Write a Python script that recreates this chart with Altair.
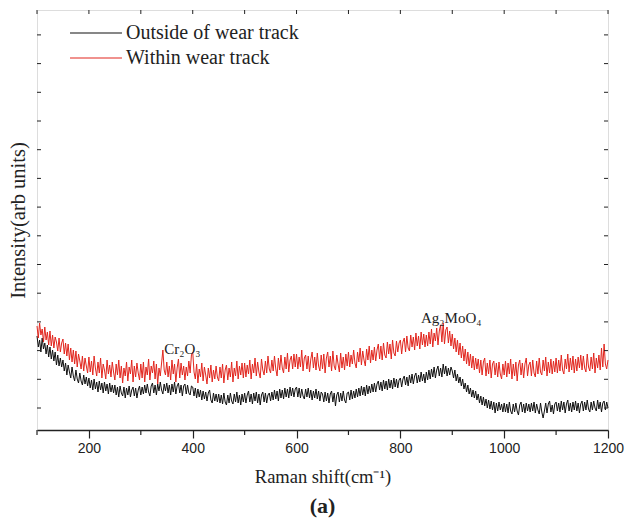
import altair as alt
import pandas as pd

start, step = 100, 2.5

outside = [
    94, 83, 90, 78, 92, 81, 87, 76, 85, 73, 83, 71, 80, 69, 78, 65, 75, 64, 72, 63,
    70, 59, 67, 55, 65, 58, 52, 63, 54, 49, 60, 51, 47, 57, 49, 45, 55, 46, 53, 44,
    52, 42, 50, 40, 51, 41, 48, 38, 49, 40, 47, 37, 48, 39, 46, 36, 47, 38, 45, 37,
    45, 35, 43, 33, 44, 37, 34, 43, 32, 42, 35, 44, 33, 40, 43, 34, 42, 32, 40, 44,
    35, 43, 36, 45, 37, 46, 38, 34, 44, 47, 37, 45, 35, 46, 39, 48, 40, 36, 46, 39,
    47, 37, 45, 35, 46, 38, 48, 36, 44, 47, 37, 45, 34, 44, 46, 36, 45, 37, 35, 44,
    43, 34, 42, 32, 41, 33, 40, 30, 39, 31, 38, 29, 37, 40, 30, 27, 37, 29, 36, 28,
    36, 27, 35, 26, 37, 28, 25, 35, 27, 37, 29, 26, 36, 28, 38, 27, 35, 25, 36, 28,
    37, 27, 35, 39, 28, 36, 26, 37, 29, 38, 27, 36, 25, 35, 38, 28, 37, 27, 35, 37,
    29, 38, 30, 40, 31, 39, 29, 41, 32, 40, 31, 42, 33, 41, 32, 43, 34, 42, 33, 41,
    43, 33, 42, 32, 41, 34, 31, 41, 33, 42, 32, 40, 30, 39, 32, 41, 31, 39, 29, 38,
    36, 28, 38, 29, 37, 27, 36, 39, 28, 37, 24, 35, 38, 28, 37, 29, 39, 30, 27, 37,
    38, 30, 40, 31, 39, 32, 41, 33, 42, 34, 44, 35, 43, 34, 45, 36, 44, 37, 46, 38,
    47, 38, 46, 49, 40, 48, 39, 50, 41, 49, 40, 51, 42, 50, 41, 52, 43, 51, 42, 50,
    52, 43, 51, 54, 45, 53, 44, 55, 47, 56, 46, 54, 57, 47, 55, 48, 58, 49, 56, 47,
    58, 50, 60, 51, 61, 53, 63, 52, 60, 64, 54, 62, 53, 66, 56, 64, 54, 62, 55, 63,
    59, 52, 60, 49, 56, 47, 53, 44, 51, 41, 47, 38, 45, 36, 42, 33, 40, 32, 39, 30,
    36, 27, 34, 25, 33, 24, 31, 22, 30, 21, 29, 20, 28, 17, 27, 19, 28, 20, 26, 18,
    27, 18, 26, 17, 28, 19, 16, 26, 18, 27, 19, 15, 25, 28, 18, 26, 17, 27, 19, 26,
    18, 27, 19, 28, 17, 26, 20, 16, 27, 18, 12, 19, 27, 17, 26, 29, 18, 25, 16, 26,
    28, 19, 27, 18, 29, 20, 28, 17, 26, 30, 19, 27, 18, 28, 20, 29, 19, 27, 17, 26,
    29, 19, 28, 20, 30, 21, 18, 28, 20, 29, 22, 19, 30, 21, 28, 18, 27, 29, 20, 28,
    22,
]

within = [
    104, 92, 107, 95, 101, 88, 103, 90, 98, 85, 99, 84, 95, 82, 93, 88, 79, 92, 78, 87,
    91, 76, 87, 74, 86, 70, 82, 68, 80, 66, 79, 63, 76, 69, 61, 74, 59, 72, 64, 57,
    73, 58, 69, 55, 74, 62, 54, 68, 57, 72, 52, 66, 60, 51, 70, 56, 65, 53, 68, 58,
    50, 66, 55, 70, 52, 64, 47, 62, 54, 68, 49, 63, 56, 70, 48, 64, 53, 67, 57, 50,
    66, 52, 68, 48, 63, 55, 71, 50, 64, 57, 69, 51, 66, 46, 62, 54, 67, 80, 60, 55,
    68, 53, 64, 50, 70, 56, 66, 48, 62, 71, 52, 67, 55, 64, 50, 63, 54, 69, 57, 75,
    78, 58, 51, 66, 47, 61, 53, 67, 49, 63, 55, 46, 62, 52, 65, 48, 60, 51, 64, 53,
    49, 63, 52, 66, 47, 60, 65, 50, 62, 53, 68, 48, 62, 54, 69, 51, 64, 55, 67, 52,
    67, 53, 65, 56, 70, 51, 66, 57, 72, 54, 68, 58, 52, 71, 60, 55, 69, 57, 74, 61,
    57, 70, 59, 74, 61, 54, 72, 60, 75, 62, 57, 73, 61, 77, 58, 70, 74, 61, 76, 63,
    76, 61, 73, 63, 80, 59, 72, 75, 61, 74, 58, 71, 78, 62, 73, 60, 77, 64, 59, 75,
    61, 76, 57, 72, 78, 63, 74, 59, 79, 64, 60, 75, 66, 58, 77, 62, 73, 60, 76, 64,
    78, 63, 75, 66, 80, 67, 62, 78, 68, 82, 65, 79, 70, 64, 81, 70, 84, 67, 80, 70,
    83, 69, 80, 86, 71, 84, 70, 87, 75, 72, 88, 76, 86, 71, 90, 77, 74, 89, 78, 87,
    90, 76, 88, 92, 78, 94, 82, 79, 95, 83, 93, 80, 97, 84, 94, 81, 98, 85, 96, 83,
    95, 84, 98, 86, 101, 83, 97, 89, 102, 85, 99, 105, 88, 107, 86, 100, 103, 87, 99, 84,
    96, 81, 92, 78, 90, 75, 87, 72, 84, 69, 81, 66, 78, 64, 76, 62, 74, 60, 72, 61,
    71, 57, 70, 55, 68, 72, 54, 67, 56, 70, 52, 66, 69, 55, 67, 53, 68, 56, 51, 66,
    55, 69, 53, 67, 56, 71, 51, 66, 54, 68, 49, 65, 70, 55, 67, 52, 66, 72, 54, 65,
    68, 54, 70, 57, 53, 69, 56, 72, 58, 55, 70, 59, 73, 54, 68, 57, 71, 56, 69, 58,
    72, 57, 70, 59, 75, 60, 56, 71, 61, 76, 58, 72, 60, 74, 57, 71, 59, 73, 62, 75,
    60, 74, 62, 58, 76, 63, 59, 73, 61, 77, 57, 72, 62, 75, 60, 82, 63, 86, 66, 61,
    70,
]

series_names = ["Outside of wear track", "Within wear track"]
series_colors = ["#111111", "#e2261e"]

x_labels = [200, 400, 600, 800, 1000, 1200]
x_minor = [100, 300, 500, 700, 900, 1100]
x_top = [100, 200, 300, 400, 500, 600, 700, 800, 900, 1000, 1100, 1200]
y_ticks = [22, 50.7, 79.4, 108.1, 136.8, 165.5, 194.2, 222.9, 251.6, 280.3, 309, 337.7, 366.4, 395.1]

ann_text = ["Cr₂O₃", "Ag₂MoO₄"]
ann_x = [380, 898]
ann_y = [81, 112]

rows = []
for name, vals in zip(series_names, [outside, within]):
    for i, v in enumerate(vals):
        rows.append({"shift": start + i * step, "intensity": v, "series": name})
df = pd.DataFrame(rows)

W, H = 571, 420
xs = alt.Scale(domain=[100, 1200], nice=False, zero=False)
ys = alt.Scale(domain=[0, 420], nice=False, zero=False)
ink = "#222222"

lines = alt.Chart(df).mark_line(strokeWidth=1).encode(
    x=alt.X("shift:Q", scale=xs,
            axis=alt.Axis(values=x_labels, format="d", tickSize=8, tickColor=ink, tickWidth=1.2,
                          domainColor=ink, domainWidth=1.5, grid=False,
                          labelFont="Liberation Sans", labelFontSize=14, labelColor=ink,
                          labelPadding=3, labelFlush=False,
                          title="Raman shift(cm⁻¹)", titleFont="Liberation Serif",
                          titleFontSize=18.5, titleFontWeight="normal", titleColor=ink,
                          titlePadding=12)),
    y=alt.Y("intensity:Q", scale=ys,
            axis=alt.Axis(ticks=False, labels=False, domain=False, grid=False,
                          title="Intensity(arb units)", titleFont="Liberation Serif",
                          titleFontSize=20.5, titleFontWeight="normal", titleColor=ink,
                          titlePadding=9)),
    color=alt.Color("series:N",
                    scale=alt.Scale(domain=series_names, range=series_colors),
                    legend=alt.Legend(title=None, orient="none", legendX=49, legendY=13,
                                      symbolType="M-5,0H5", symbolSize=108,
                                      symbolStrokeWidth=1.2, labelOffset=20,
                                      labelFont="Liberation Serif", labelFontSize=20,
                                      labelColor=ink, rowPadding=5, padding=0,
                                      labelLimit=400)),
    order="shift:Q",
)

minor_df = pd.DataFrame({"shift": x_minor})
minor = alt.Chart(minor_df).mark_rule(color=ink, strokeWidth=1.2).encode(
    x=alt.X("shift:Q", scale=xs), y=alt.value(H), y2=alt.value(H + 5))

top_df = pd.DataFrame({"shift": x_top})
top = alt.Chart(top_df).mark_rule(color=ink, strokeWidth=1).encode(
    x=alt.X("shift:Q", scale=xs), y=alt.value(0), y2=alt.value(4))

yt_df = pd.DataFrame({"intensity": y_ticks})
left = alt.Chart(yt_df).mark_rule(color=ink, strokeWidth=1).encode(
    y=alt.Y("intensity:Q", scale=ys), x=alt.value(0), x2=alt.value(4))
right = alt.Chart(yt_df).mark_rule(color=ink, strokeWidth=1).encode(
    y=alt.Y("intensity:Q", scale=ys), x=alt.value(W - 4), x2=alt.value(W))

ann_df = pd.DataFrame({"shift": ann_x, "intensity": ann_y, "label": ann_text})
ann = alt.Chart(ann_df).mark_text(font="Liberation Serif", fontSize=15, color=ink).encode(
    x=alt.X("shift:Q", scale=xs), y=alt.Y("intensity:Q", scale=ys), text="label:N")

chart = alt.layer(lines, minor, top, left, right, ann).properties(
    width=W, height=H,
    autosize=alt.AutoSizeParams(type="none"),
    padding={"left": 37, "top": 10, "right": 20, "bottom": 93},
    title=alt.TitleParams("(a)", orient="bottom", anchor="middle", font="Liberation Serif",
                          fontSize=22, fontWeight="bold", color=ink, offset=10),
).configure_view(stroke=ink, strokeWidth=1.5).configure(background="white")

chart.save("out.html", embed_options={"renderer": "svg", "actions": False})
